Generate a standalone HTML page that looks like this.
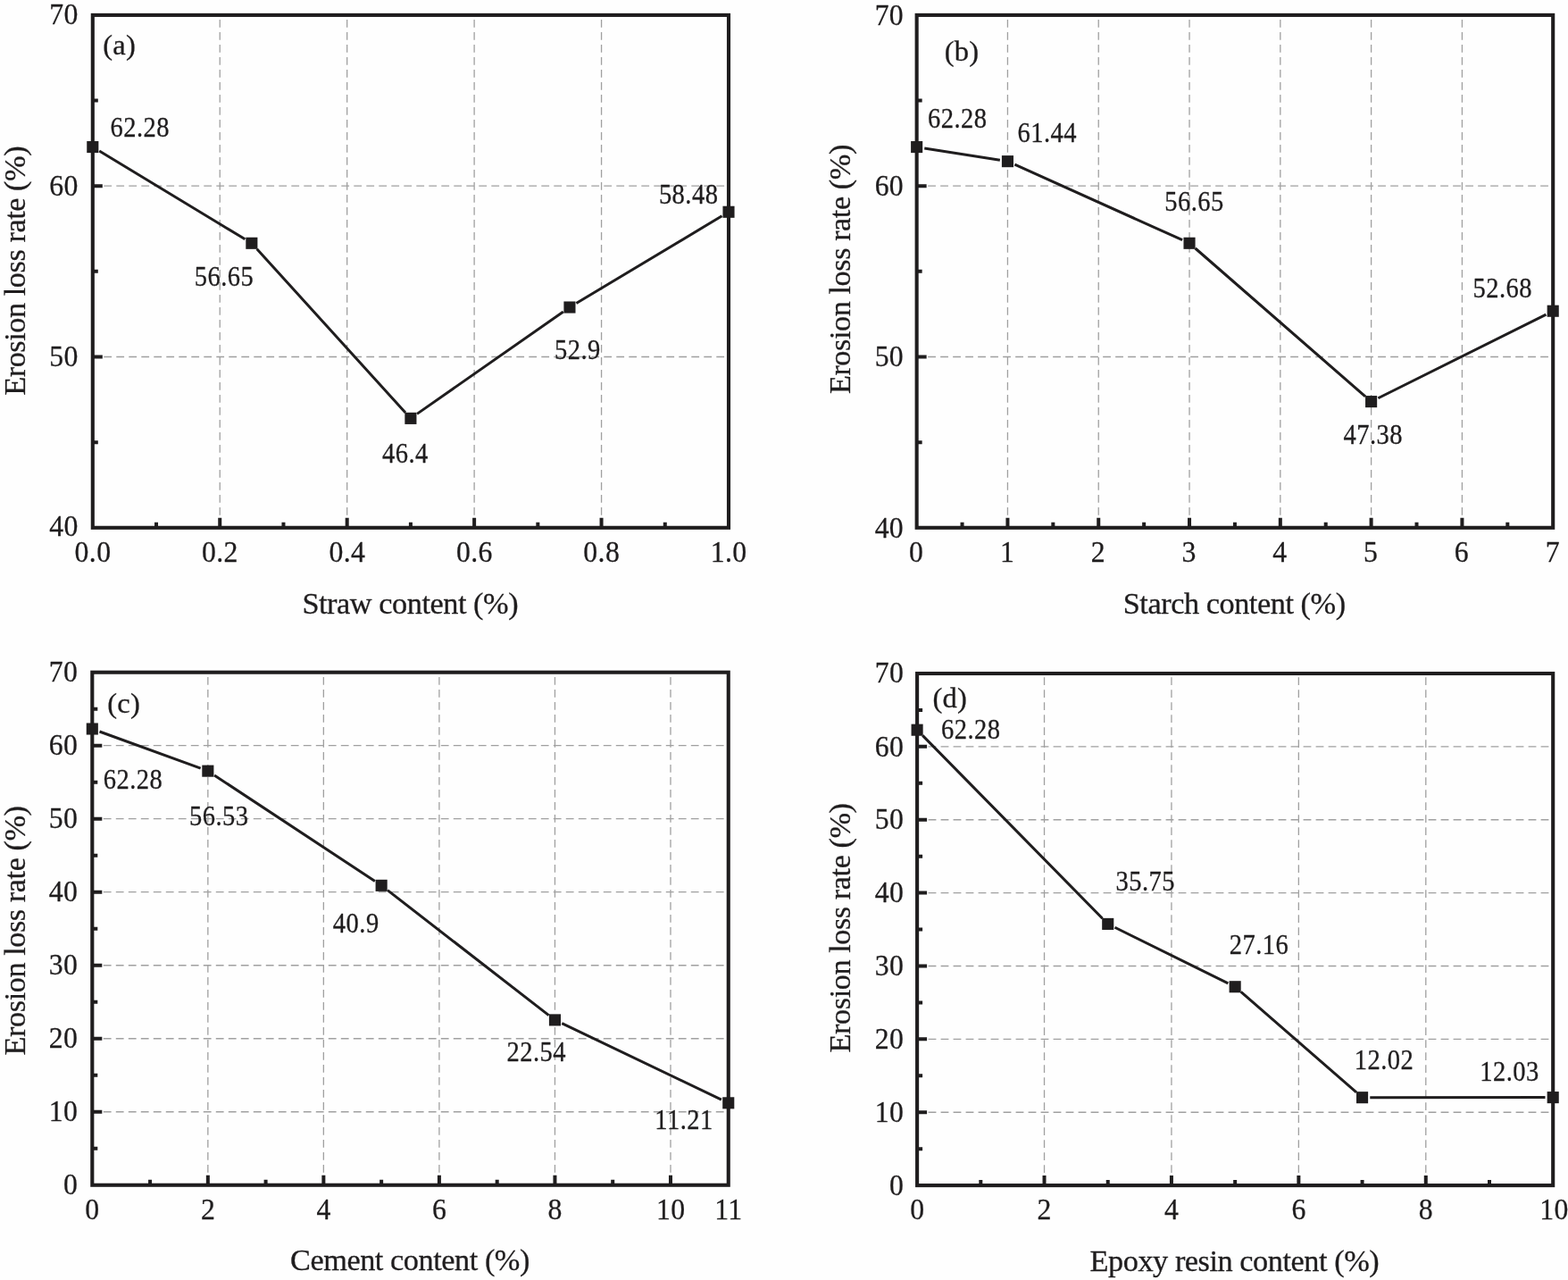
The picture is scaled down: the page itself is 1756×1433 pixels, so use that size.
<!DOCTYPE html>
<html lang="en"><head><meta charset="utf-8"><title>Erosion loss rate</title>
<style>
html,body{margin:0;padding:0;background:#fefefe;}
body{width:1756px;height:1433px;overflow:hidden;}
svg{display:block;}
text{font-family:"Liberation Serif", "DejaVu Serif", serif;fill:#1f1d1e;stroke:#1f1d1e;stroke-width:0.3px;stroke-linejoin:round;}
.ax{fill:none;stroke:#1f1d1e;stroke-width:4.1;stroke-linejoin:miter;}
.tk{stroke:#1f1d1e;stroke-width:4.0;fill:none;}
.gr{stroke:#a0a0a0;stroke-width:1.3;stroke-dasharray:8.8 5.2;fill:none;}
.ln{stroke:#1f1d1e;stroke-width:3.0;fill:none;stroke-linejoin:round;}
.mk{fill:#1f1d1e;}
.t{font-size:34.7px;letter-spacing:0.4px;}
.d{font-size:30.5px;letter-spacing:0.5px;}
.l{font-size:34.3px;letter-spacing:-0.46px;}
.g{font-size:32.6px;letter-spacing:0.2px;}
</style></head><body>
<svg width="1756" height="1433" viewBox="0 0 1756 1433" role="img" aria-label="Erosion loss rate versus straw, starch, cement and epoxy resin content">
<rect x="0" y="0" width="1756" height="1433" fill="#fefefe"/>
<g id="panel-a">
<path class="gr" d="M246.24 590.8V16.9M388.68 590.8V16.9M531.12 590.8V16.9M673.56 590.8V16.9M102.3 399.5H816M102.3 208.2H816"/>
<path class="tk" d="M246.24 590.8v-11M388.68 590.8v-11M531.12 590.8v-11M673.56 590.8v-11M175.02 590.8v-6M317.46 590.8v-6M459.9 590.8v-6M602.34 590.8v-6M744.78 590.8v-6M103.8 399.5h11M103.8 208.2h11M103.8 495.15h6M103.8 303.85h6M103.8 112.55h6"/>
<rect class="ax" x="103.8" y="16.9" width="712.2" height="573.9"/>
<path class="ln" d="M111.24 169.09L274.41 267.78M287.7 278.73L454.05 461.93M467.03 463.39L630.82 349M645.41 339.55L808.54 241.75"/>
<rect class="mk" x="97.25" y="158.03" width="13.1" height="13.1"/>
<rect class="mk" x="275.3" y="265.74" width="13.1" height="13.1"/>
<rect class="mk" x="453.35" y="461.82" width="13.1" height="13.1"/>
<rect class="mk" x="631.4" y="337.47" width="13.1" height="13.1"/>
<rect class="mk" x="809.45" y="230.73" width="13.1" height="13.1"/>
<text class="t" x="0.2" transform="translate(103.8 628.9) scale(0.915 1)" text-anchor="middle">0.0</text>
<text class="t" x="0.2" transform="translate(246.24 628.9) scale(0.915 1)" text-anchor="middle">0.2</text>
<text class="t" x="0.2" transform="translate(388.68 628.9) scale(0.915 1)" text-anchor="middle">0.4</text>
<text class="t" x="0.2" transform="translate(531.12 628.9) scale(0.915 1)" text-anchor="middle">0.6</text>
<text class="t" x="0.2" transform="translate(673.56 628.9) scale(0.915 1)" text-anchor="middle">0.8</text>
<text class="t" x="0.2" transform="translate(816 628.9) scale(0.915 1)" text-anchor="middle">1.0</text>
<text class="t" x="0.4" transform="translate(87.4 600.1) scale(0.915 1)" text-anchor="end">40</text>
<text class="t" x="0.4" transform="translate(87.4 410.2) scale(0.915 1)" text-anchor="end">50</text>
<text class="t" x="0.4" transform="translate(87.4 218.9) scale(0.915 1)" text-anchor="end">60</text>
<text class="t" x="0.4" transform="translate(87.4 27.1) scale(0.915 1)" text-anchor="end">70</text>
<text class="d" x="0.25" transform="translate(156.5 153) scale(0.935 1)" text-anchor="middle">62.28</text>
<text class="d" x="0.25" transform="translate(250.7 320) scale(0.935 1)" text-anchor="middle">56.65</text>
<text class="d" x="0.25" transform="translate(453.7 518) scale(0.935 1)" text-anchor="middle">46.4</text>
<text class="d" x="0.25" transform="translate(646.6 402.4) scale(0.935 1)" text-anchor="middle">52.9</text>
<text class="d" x="0.25" transform="translate(770.9 228.4) scale(0.935 1)" text-anchor="middle">58.48</text>
<text class="g" x="0.1" transform="translate(133.5 61.3)" text-anchor="middle">(a)</text>
<text class="l" x="-0.23" transform="translate(459.5 687)" text-anchor="middle">Straw content (%)</text>
<text class="l" x="-0.23" transform="translate(27.8 303.1) rotate(-90)" text-anchor="middle">Erosion loss rate (%)</text>
</g>
<g id="panel-b">
<path class="gr" d="M1128.44 590.8V16.9M1230.24 590.8V16.9M1332.03 590.8V16.9M1433.82 590.8V16.9M1535.61 590.8V16.9M1637.41 590.8V16.9M1025.15 399.5H1739.2M1025.15 208.2H1739.2"/>
<path class="tk" d="M1128.44 590.8v-11M1230.24 590.8v-11M1332.03 590.8v-11M1433.82 590.8v-11M1535.61 590.8v-11M1637.41 590.8v-11M1077.55 590.8v-6M1179.34 590.8v-6M1281.13 590.8v-6M1382.93 590.8v-6M1484.72 590.8v-6M1586.51 590.8v-6M1688.3 590.8v-6M1026.65 399.5h11M1026.65 208.2h11M1026.65 495.15h6M1026.65 303.85h6M1026.65 112.55h6"/>
<rect class="ax" x="1026.65" y="16.9" width="712.55" height="573.9"/>
<path class="ln" d="M1035.24 165.94L1119.85 179.3M1136.38 184.22L1324.1 268.71M1338.59 278L1529.05 443.91M1543.4 445.74L1731.41 352.11"/>
<rect class="mk" x="1020.1" y="158.03" width="13.1" height="13.1"/>
<rect class="mk" x="1121.89" y="174.1" width="13.1" height="13.1"/>
<rect class="mk" x="1325.48" y="265.74" width="13.1" height="13.1"/>
<rect class="mk" x="1529.06" y="443.07" width="13.1" height="13.1"/>
<rect class="mk" x="1732.65" y="341.68" width="13.1" height="13.1"/>
<text class="t" x="0.2" transform="translate(1026.05 628.9) scale(0.915 1)" text-anchor="middle">0</text>
<text class="t" x="0.2" transform="translate(1127.84 628.9) scale(0.915 1)" text-anchor="middle">1</text>
<text class="t" x="0.2" transform="translate(1229.64 628.9) scale(0.915 1)" text-anchor="middle">2</text>
<text class="t" x="0.2" transform="translate(1331.43 628.9) scale(0.915 1)" text-anchor="middle">3</text>
<text class="t" x="0.2" transform="translate(1433.22 628.9) scale(0.915 1)" text-anchor="middle">4</text>
<text class="t" x="0.2" transform="translate(1535.01 628.9) scale(0.915 1)" text-anchor="middle">5</text>
<text class="t" x="0.2" transform="translate(1636.81 628.9) scale(0.915 1)" text-anchor="middle">6</text>
<text class="t" x="0.2" transform="translate(1738.6 628.9) scale(0.915 1)" text-anchor="middle">7</text>
<text class="t" x="0.4" transform="translate(1011.75 601.5) scale(0.915 1)" text-anchor="end">40</text>
<text class="t" x="0.4" transform="translate(1011.75 410.2) scale(0.915 1)" text-anchor="end">50</text>
<text class="t" x="0.4" transform="translate(1011.75 218.9) scale(0.915 1)" text-anchor="end">60</text>
<text class="t" x="0.4" transform="translate(1011.75 27.6) scale(0.915 1)" text-anchor="end">70</text>
<text class="d" x="0.25" transform="translate(1072 143) scale(0.935 1)" text-anchor="middle">62.28</text>
<text class="d" x="0.25" transform="translate(1172.5 158.6) scale(0.935 1)" text-anchor="middle">61.44</text>
<text class="d" x="0.25" transform="translate(1337.3 236.4) scale(0.935 1)" text-anchor="middle">56.65</text>
<text class="d" x="0.25" transform="translate(1537.5 497) scale(0.935 1)" text-anchor="middle">47.38</text>
<text class="d" x="0.25" transform="translate(1682.5 333) scale(0.935 1)" text-anchor="middle">52.68</text>
<text class="g" x="0.1" transform="translate(1077 68.3)" text-anchor="middle">(b)</text>
<text class="l" x="-0.23" transform="translate(1382.4 687)" text-anchor="middle">Starch content (%)</text>
<text class="l" x="-0.23" transform="translate(951.9 301.4) rotate(-90)" text-anchor="middle">Erosion loss rate (%)</text>
</g>
<g id="panel-c">
<path class="gr" d="M232.84 1326.75V752.7M362.37 1326.75V752.7M491.91 1326.75V752.7M621.45 1326.75V752.7M750.98 1326.75V752.7M101.8 1244.74H815.75M101.8 1162.74H815.75M101.8 1080.73H815.75M101.8 998.72H815.75M101.8 916.71H815.75M101.8 834.71H815.75"/>
<path class="tk" d="M232.84 1326.75v-11M362.37 1326.75v-11M491.91 1326.75v-11M621.45 1326.75v-11M750.98 1326.75v-11M168.07 1326.75v-6M297.6 1326.75v-6M427.14 1326.75v-6M556.68 1326.75v-6M686.21 1326.75v-6M103.3 1244.74h11M103.3 1162.74h11M103.3 1080.73h11M103.3 998.72h11M103.3 916.71h11M103.3 834.71h11M103.3 1285.75h6M103.3 1203.74h6M103.3 1121.73h6M103.3 1039.72h6M103.3 957.72h6M103.3 875.71h6M103.3 793.7h6"/>
<rect class="ax" x="103.3" y="752.7" width="712.45" height="574.05"/>
<path class="ln" d="M111.48 818.99L224.66 860.19M240.1 867.95L419.88 986.55M434.02 996.67L614.57 1136.58M629.29 1145.66L807.9 1231.07"/>
<rect class="mk" x="96.75" y="809.46" width="13.1" height="13.1"/>
<rect class="mk" x="226.29" y="856.61" width="13.1" height="13.1"/>
<rect class="mk" x="420.59" y="984.79" width="13.1" height="13.1"/>
<rect class="mk" x="614.9" y="1135.36" width="13.1" height="13.1"/>
<rect class="mk" x="809.2" y="1228.27" width="13.1" height="13.1"/>
<text class="t" x="0.2" transform="translate(103.3 1364.85) scale(0.915 1)" text-anchor="middle">0</text>
<text class="t" x="0.2" transform="translate(232.84 1364.85) scale(0.915 1)" text-anchor="middle">2</text>
<text class="t" x="0.2" transform="translate(362.37 1364.85) scale(0.915 1)" text-anchor="middle">4</text>
<text class="t" x="0.2" transform="translate(491.91 1364.85) scale(0.915 1)" text-anchor="middle">6</text>
<text class="t" x="0.2" transform="translate(621.45 1364.85) scale(0.915 1)" text-anchor="middle">8</text>
<text class="t" x="0.2" transform="translate(750.98 1364.85) scale(0.915 1)" text-anchor="middle">10</text>
<text class="t" x="0.2" transform="translate(815.75 1364.85) scale(0.915 1)" text-anchor="middle">11</text>
<text class="t" x="0.4" transform="translate(86.9 1337.45) scale(0.915 1)" text-anchor="end">0</text>
<text class="t" x="0.4" transform="translate(86.9 1255.44) scale(0.915 1)" text-anchor="end">10</text>
<text class="t" x="0.4" transform="translate(86.9 1173.44) scale(0.915 1)" text-anchor="end">20</text>
<text class="t" x="0.4" transform="translate(86.9 1091.43) scale(0.915 1)" text-anchor="end">30</text>
<text class="t" x="0.4" transform="translate(86.9 1009.42) scale(0.915 1)" text-anchor="end">40</text>
<text class="t" x="0.4" transform="translate(86.9 927.41) scale(0.915 1)" text-anchor="end">50</text>
<text class="t" x="0.4" transform="translate(86.9 845.41) scale(0.915 1)" text-anchor="end">60</text>
<text class="t" x="0.4" transform="translate(86.9 763.4) scale(0.915 1)" text-anchor="end">70</text>
<text class="d" x="0.25" transform="translate(148.7 882.5) scale(0.935 1)" text-anchor="middle">62.28</text>
<text class="d" x="0.25" transform="translate(245 923.8) scale(0.935 1)" text-anchor="middle">56.53</text>
<text class="d" x="0.25" transform="translate(398.5 1044) scale(0.935 1)" text-anchor="middle">40.9</text>
<text class="d" x="0.25" transform="translate(600.5 1187.5) scale(0.935 1)" text-anchor="middle">22.54</text>
<text class="d" x="0.25" transform="translate(765.8 1264) scale(0.935 1)" text-anchor="middle">11.21</text>
<text class="g" x="0.1" transform="translate(138.5 797.7)" text-anchor="middle">(c)</text>
<text class="l" x="-0.23" transform="translate(459.2 1422.2)" text-anchor="middle">Cement content (%)</text>
<text class="l" x="-0.23" transform="translate(27.8 1041.7) rotate(-90)" text-anchor="middle">Erosion loss rate (%)</text>
</g>
<g id="panel-d">
<path class="gr" d="M1169.52 1327.1V754M1311.94 1327.1V754M1454.36 1327.1V754M1596.78 1327.1V754M1025.6 1245.23H1739.2M1025.6 1163.36H1739.2M1025.6 1081.49H1739.2M1025.6 999.61H1739.2M1025.6 917.74H1739.2M1025.6 835.87H1739.2"/>
<path class="tk" d="M1169.52 1327.1v-11M1311.94 1327.1v-11M1454.36 1327.1v-11M1596.78 1327.1v-11M1098.31 1327.1v-6M1240.73 1327.1v-6M1383.15 1327.1v-6M1525.57 1327.1v-6M1667.99 1327.1v-6M1027.1 1245.23h11M1027.1 1163.36h11M1027.1 1081.49h11M1027.1 999.61h11M1027.1 917.74h11M1027.1 835.87h11M1027.1 1286.16h6M1027.1 1204.29h6M1027.1 1122.42h6M1027.1 1040.55h6M1027.1 958.68h6M1027.1 876.81h6M1027.1 794.94h6"/>
<rect class="ax" x="1027.1" y="754" width="712.1" height="573.1"/>
<path class="ln" d="M1033.2 823.41L1234.63 1028.21M1248.53 1038.26L1375.35 1100.89M1389.71 1110.45L1519.01 1222.98M1534.27 1228.69L1730.5 1228.61"/>
<rect class="mk" x="1020.55" y="810.65" width="13.1" height="13.1"/>
<rect class="mk" x="1234.18" y="1027.86" width="13.1" height="13.1"/>
<rect class="mk" x="1376.6" y="1098.19" width="13.1" height="13.1"/>
<rect class="mk" x="1519.02" y="1222.14" width="13.1" height="13.1"/>
<rect class="mk" x="1732.65" y="1222.06" width="13.1" height="13.1"/>
<text class="t" x="0.2" transform="translate(1027.1 1365.2) scale(0.915 1)" text-anchor="middle">0</text>
<text class="t" x="0.2" transform="translate(1169.52 1365.2) scale(0.915 1)" text-anchor="middle">2</text>
<text class="t" x="0.2" transform="translate(1311.94 1365.2) scale(0.915 1)" text-anchor="middle">4</text>
<text class="t" x="0.2" transform="translate(1454.36 1365.2) scale(0.915 1)" text-anchor="middle">6</text>
<text class="t" x="0.2" transform="translate(1596.78 1365.2) scale(0.915 1)" text-anchor="middle">8</text>
<text class="t" x="0.2" transform="translate(1740.3 1365.2) scale(0.915 1)" text-anchor="middle">10</text>
<text class="t" x="0.4" transform="translate(1011.8 1337.8) scale(0.915 1)" text-anchor="end">0</text>
<text class="t" x="0.4" transform="translate(1011.8 1255.93) scale(0.915 1)" text-anchor="end">10</text>
<text class="t" x="0.4" transform="translate(1011.8 1174.06) scale(0.915 1)" text-anchor="end">20</text>
<text class="t" x="0.4" transform="translate(1011.8 1092.19) scale(0.915 1)" text-anchor="end">30</text>
<text class="t" x="0.4" transform="translate(1011.8 1010.31) scale(0.915 1)" text-anchor="end">40</text>
<text class="t" x="0.4" transform="translate(1011.8 928.44) scale(0.915 1)" text-anchor="end">50</text>
<text class="t" x="0.4" transform="translate(1011.8 846.57) scale(0.915 1)" text-anchor="end">60</text>
<text class="t" x="0.4" transform="translate(1011.8 764.2) scale(0.915 1)" text-anchor="end">70</text>
<text class="d" x="0.25" transform="translate(1087 827) scale(0.935 1)" text-anchor="middle">62.28</text>
<text class="d" x="0.25" transform="translate(1282.5 997) scale(0.935 1)" text-anchor="middle">35.75</text>
<text class="d" x="0.25" transform="translate(1409.7 1067.9) scale(0.935 1)" text-anchor="middle">27.16</text>
<text class="d" x="0.25" transform="translate(1549.8 1197) scale(0.935 1)" text-anchor="middle">12.02</text>
<text class="d" x="0.25" transform="translate(1690.2 1209.6) scale(0.935 1)" text-anchor="middle">12.03</text>
<text class="g" x="0.1" transform="translate(1063.7 791.7)" text-anchor="middle">(d)</text>
<text class="l" x="-0.23" transform="translate(1382.6 1423)" text-anchor="middle">Epoxy resin content (%)</text>
<text class="l" x="-0.23" transform="translate(952 1038.7) rotate(-90)" text-anchor="middle">Erosion loss rate (%)</text>
</g>
</svg>
</body></html>
